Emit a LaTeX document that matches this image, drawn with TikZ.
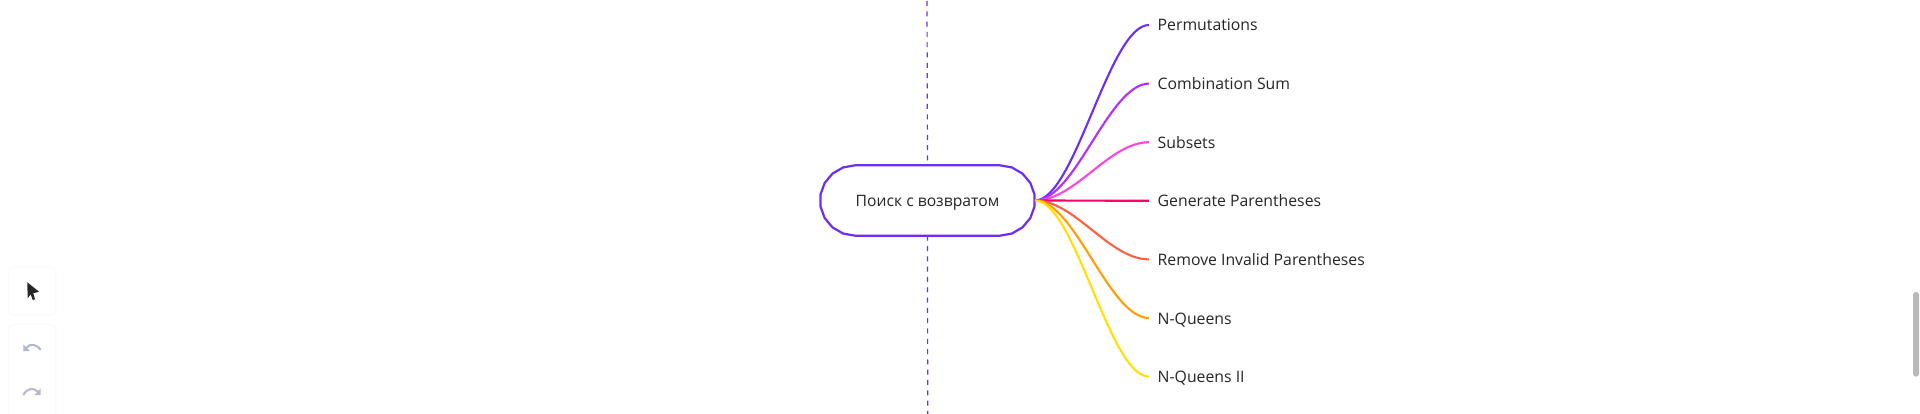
\documentclass[tikz,border=0pt]{standalone}
\usepackage{fontspec}
\setmainfont{Open Sans}
\usetikzlibrary{positioning}
\definecolor{violeta}{HTML}{6F2CF5}
\definecolor{malva}{HTML}{B02FFB}
\definecolor{rosa}{HTML}{FF45E0}
\definecolor{fucsia}{HTML}{FF006E}
\definecolor{coral}{HTML}{FF6040}
\definecolor{naranja}{HTML}{FFA000}
\definecolor{amarillo}{HTML}{FFE000}
\definecolor{tinta}{HTML}{262626}
\definecolor{icono}{HTML}{B4B8CC}
\tikzset{
	raiz/.style={rectangle, text=tinta, font=\fontsize{15.7}{18}\selectfont, minimum width=215pt,
		minimum height=70.5pt, inner sep=0pt, outer sep=0pt, text height=14pt, text depth=1pt},
	contorno/.style={draw=violeta, line width=2.2pt, fill=white},
	hoja/.style={inner xsep=8.7pt, inner ysep=0pt, outer sep=0pt, text height=13pt, text depth=1pt,
		text=tinta, font=\fontsize{15.8}{18}\selectfont},
	rama/.style={line width=2.1pt},
	eje/.style={violeta, line width=1.2pt, dash pattern=on 5pt off 5.3pt},
	tarjeta/.style={fill=white, draw=black!1.5, line width=1.5pt, rounded corners=4pt,
		inner sep=0pt, minimum width=47pt}
}
\begin{document}
\begin{tikzpicture}[x=1pt, y=-1pt]
	\useasboundingbox (0,0) rectangle (1920,414);
	\fill[white] (0,0) rectangle (1920,414);

	% eje vertical
	\node[raiz] (root) at (927.5,200.5) {};
	\coordinate (top) at (927,1);
	\coordinate (bottom) at (927.7,414);
	\draw[eje] (top) -- (root.north);
	\draw[eje] (root.south) -- (bottom);
	\draw[contorno] plot[samples=10, domain=90:270] ({855.2+35.2*cos(\x)},{200.5-35.2*sin(\x)})
		-- plot[samples=10, domain=-90:90] ({999.8+35.2*cos(\x)},{200.5-35.2*sin(\x)}) -- cycle;
	\node[raiz] (titulo) at (root) {Поиск с возвратом};

	% hojas
	\node[hoja, anchor=west] (perm) at (1149,25) {Permutations};
	\node[hoja, below=44.6pt of perm.south west, anchor=north west] (comb) {Combination Sum};
	\node[hoja, below=44.6pt of comb.south west, anchor=north west] (subs) {Subsets};
	\node[hoja, below=44.6pt of subs.south west, anchor=north west] (gene) {Generate Parentheses};
	\node[hoja, below=44.6pt of gene.south west, anchor=north west] (remo) {Remove Invalid Parentheses};
	\node[hoja, below=44.6pt of remo.south west, anchor=north west] (quee) {N-Queens};
	\node[hoja, below=44.6pt of quee.south west, anchor=north west] (quii) {N-Queens II};

	% ramas
	\foreach \hoja/\tono in {perm/violeta,comb/malva,subs/rosa,gene/fucsia,remo/coral,quee/naranja,quii/amarillo}
		\draw[rama, \tono] (root.east) .. controls +(40,0) and +(-40,0) .. (\hoja.west);

	% barra de herramientas
	\node[tarjeta, minimum height=47pt] (cursor) at (32,291) {};
	\node[tarjeta, minimum height=110pt, anchor=north] (historial) at (32,323.5) {};
	\fill[tinta] (27.3,282.3) -- (39,291.7) -- (33.3,293.3) -- (35,299.3) -- (32.7,300) -- (30.7,294.3) -- (27.7,298.3) -- cycle;
	\draw[icono, line width=2pt] (40.7,350) .. controls (37,344) and (30,343) .. (26,348);
	\fill[icono] (23.3,344.3) -- (23.3,351) -- (29.8,351) -- cycle;
	\draw[icono, line width=2pt] (23.3,395) .. controls (27,388) and (34,387) .. (38,392);
	\fill[icono] (40.7,388.3) -- (40.7,395) -- (34.5,395) -- cycle;

	% scroll
	\fill[black!28, rounded corners=3pt] (1913,292) rectangle (1919,376.7);
\end{tikzpicture}
\end{document}
